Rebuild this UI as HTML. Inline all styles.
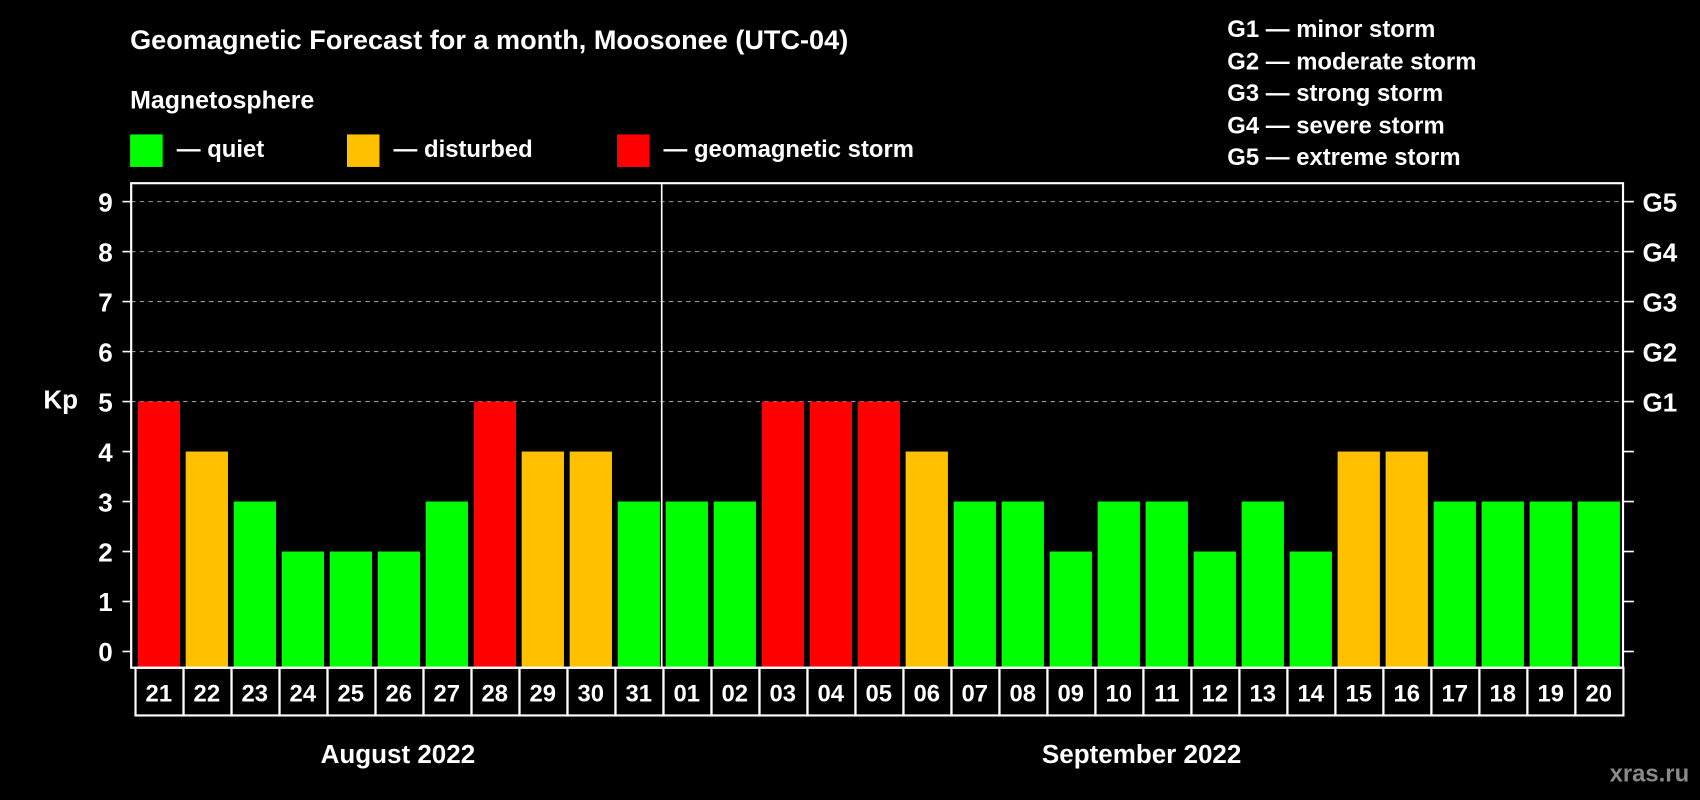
<!DOCTYPE html>
<html><head><meta charset="utf-8"><style>
html,body{margin:0;padding:0;background:#000;}
svg{display:block;font-family:"Liberation Sans",sans-serif;font-weight:bold;}
</style></head><body>
<svg id="chart" width="1700" height="800" viewBox="0 0 1568 738" preserveAspectRatio="none" xmlns="http://www.w3.org/2000/svg">
<rect x="0" y="0" width="1568" height="738" fill="#000"/>
<text x="120" y="45" fill="#fff" font-size="25">Geomagnetic Forecast for a month, Moosonee (UTC-04)</text>
<text x="120" y="100" fill="#fff" font-size="23">Magnetosphere</text>
<g><rect x="120" y="124" width="30" height="30" fill="#00ff00"/><text x="163" y="145" fill="#fff" font-size="22">— quiet</text></g>
<g><rect x="320" y="124" width="30" height="30" fill="#ffc000"/><text x="363" y="145" fill="#fff" font-size="22">— disturbed</text></g>
<g><rect x="569" y="124" width="30" height="30" fill="#ff0000"/><text x="612" y="145" fill="#fff" font-size="22">— geomagnetic storm</text></g>
<g fill="#fff" font-size="22">
<text x="1132" y="34">G1 — minor storm</text>
<text x="1132" y="64">G2 — moderate storm</text>
<text x="1132" y="93">G3 — strong storm</text>
<text x="1132" y="123">G4 — severe storm</text>
<text x="1132" y="152">G5 — extreme storm</text>
</g>
<text x="40" y="377" fill="#fff" font-size="24">Kp</text>
<g id="grid"></g>
<g id="bars"></g>
<g id="axes"></g>
<text x="367" y="704" fill="#fff" font-size="24" text-anchor="middle">August 2022</text>
<text x="1053" y="704" fill="#fff" font-size="24" text-anchor="middle">September 2022</text>
<text x="1558" y="721" fill="#8a8a8a" font-size="22" text-anchor="end">xras.ru</text>
</svg>
<script>
const dates = ["21","22","23","24","25","26","27","28","29","30","31","01","02","03","04","05","06","07","08","09","10","11","12","13","14","15","16","17","18","19","20"];
const kpValues = [5,4,3,2,2,2,3,5,4,4,3,3,3,5,5,5,4,3,3,2,3,3,2,3,2,4,4,3,3,3,3];
const yTicks = [0,1,2,3,4,5,6,7,8,9];
const gLabels = ["","","","","","G1","G2","G3","G4","G5"];
const monthSplitIndex = 11;

const NS="http://www.w3.org/2000/svg";
const L=121,R=1497,T=169,B=616,y0=601,y9=186;
const first=127,pitch=44.27,bw=39;
function y(v){return y0-(y0-y9)*v/9;}
function x(i){return first+i*pitch;}
function mk(tag,attrs,parent){const e=document.createElementNS(NS,tag);for(const k in attrs)e.setAttribute(k,attrs[k]);parent.appendChild(e);return e;}
const grid=document.getElementById('grid'),bars=document.getElementById('bars'),axes=document.getElementById('axes');
yTicks.forEach((v,i)=>{
  if(v>=5){const g=mk('line',{x1:L,x2:R,y1:y(v),y2:y(v),stroke:'#999','stroke-dasharray':'4 4','stroke-width':1},grid);
  
  }
  const t=mk('line',{x1:L-8,x2:L,y1:y(v),y2:y(v),stroke:'#fff','stroke-width':1.5},axes);
  
  
  const t2=mk('line',{x1:R,x2:R+10,y1:y(v),y2:y(v),stroke:'#fff','stroke-width':1.5},axes);
  
  
  const lb=mk('text',{x:104,y:y(v)+9,fill:'#fff','font-size':24,'text-anchor':'end'},axes);lb.textContent=v;
  
  
  if(gLabels[i]){const gl=mk('text',{x:1515,y:y(v)+9,fill:'#fff','font-size':24},axes);gl.textContent=gLabels[i];
  
  }
});
kpValues.forEach((v,i)=>{
  const c=v>=5?'#ff0000':(v>=4?'#ffc000':'#00ff00');
  const b=mk('rect',{x:x(i),y:y(v),width:bw,height:B-y(v),fill:c},bars);
  
  
  const bx=mk('rect',{x:x(i)-2,y:B,width:pitch,height:44,fill:'none',stroke:'#fff','stroke-width':2},axes);
  
  
  const dt=mk('text',{x:x(i)+bw/2,y:B+31,fill:'#fff','font-size':22,'text-anchor':'middle'},axes);dt.textContent=dates[i];
  
  
});
const fr=mk('rect',{x:L,y:T,width:R-L,height:B-T,fill:'none',stroke:'#fff','stroke-width':2},axes);


const sx=x(monthSplitIndex)-(pitch-bw)/2-1;
const sp=mk('line',{x1:sx,x2:sx,y1:T,y2:B,stroke:'#fff','stroke-width':1.5},axes);


</script>
</body></html>
